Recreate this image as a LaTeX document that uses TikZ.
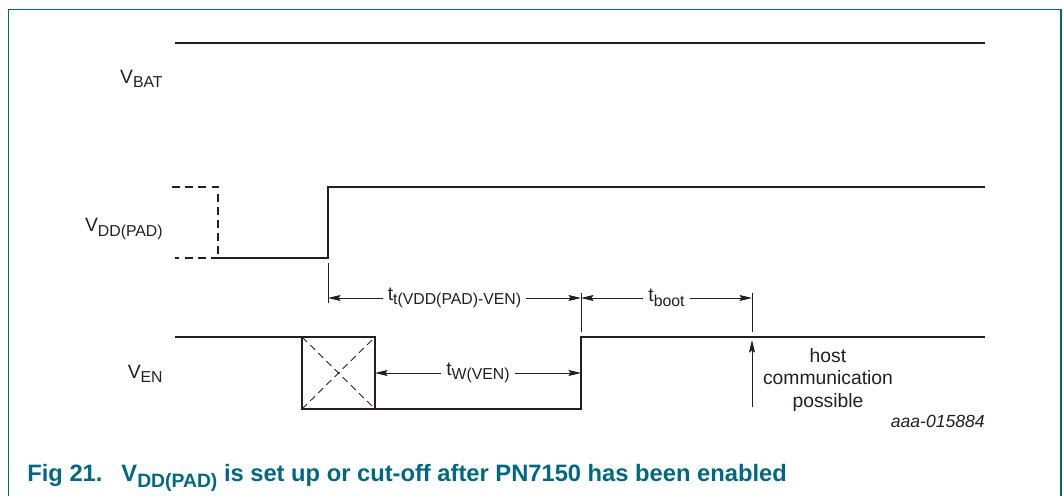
\documentclass[tikz,border=0pt]{standalone}
\usepackage{fontspec}
\setmainfont{Liberation Sans}
\usetikzlibrary{arrows.meta}
\definecolor{nxpTeal}{RGB}{0,104,128}
\definecolor{sigGrau}{RGB}{35,31,32}

\newcommand{\lo}[1]{\raisebox{-0.45ex}{\fontsize{9}{10}\selectfont #1}}

\begin{document}
\begin{tikzpicture}[x=0.02cm, y=-0.02cm,
     sig/.style={line width=1.45pt, sigGrau},
     sigdash/.style={line width=1.45pt, sigGrau, dash pattern=on 4.5pt off 3pt},
     hilf/.style={line width=0.5pt, sigGrau},
     kreuz/.style={line width=0.5pt, sigGrau, dash pattern=on 4pt off 2.5pt},
     mass/.style={{Stealth[length=2.5mm,width=1.2mm,inset=0.4mm]}-{Stealth[length=2.5mm,width=1.2mm,inset=0.4mm]}, line width=0.5pt, sigGrau},
     zeig/.style={-{Stealth[length=2.5mm,width=1.2mm,inset=0.4mm]}, line width=0.5pt, sigGrau},
     lbl/.style={font=\fontsize{11}{13}\selectfont, inner sep=0pt, text=sigGrau},
     mlbl/.style={lbl, fill=white, inner xsep=3pt, inner ysep=2pt}]
    \useasboundingbox (0,0) rectangle (1063,496);
    % Rahmen
    \draw[nxpTeal, line width=1pt] (8.5,496) -- (8.5,9.5) -- (1061,9.5) -- (1061,496);

    % Signalnamen
    \node[lbl, anchor=east] (nbat) at (163,79) {V\lo{BAT}};
    \node[lbl, anchor=east] (npad) at (163,229) {V\lo{DD(PAD)}};
    \node[lbl, anchor=east] (nen) at (163,374) {V\lo{EN}};

    % V_BAT
    \draw[sig] (175,43) -- (985,43);

    % V_DD(PAD)
    \coordinate (p1) at (218,258);
    \coordinate (p2) at (328,258);
    \coordinate (p3) at (328,187);
    \draw[sigdash] (172,187) -- (218,187) -- (p1);
    \draw[sigdash, dash phase=2pt] (175,258) -- (p1);
    \draw[sig] (p1) -- (p2) -- (p3) -- (985,187);

    % V_EN
    \coordinate (e1) at (302,337);
    \coordinate (e2) at (375,409);
    \coordinate (e3) at (581,409);
    \coordinate (e4) at (581,337);
    \draw[sig] (175,337) -- (e1);
    \draw[kreuz] (e1) -- (e2) (302,409) -- (375,337);
    \draw[sig] (e1) rectangle (e2);
    \draw[sig] (e2) -- (e3) -- (e4) -- (985,337);

    % Hilfslinien
    \coordinate (m1) at (328,298);
    \coordinate (m2) at (581,298);
    \coordinate (m3) at (752,298);
    \coordinate (w1) at (375,373);
    \coordinate (w2) at (581,373);
    \coordinate (h1) at (752,407);
    \coordinate (h2) at (752,340);
    \draw[hilf] (328,263) -- (328,303);
    \draw[hilf] (581,293) -- (581,332);
    \draw[hilf] (752,293) -- (752,332);

    % Zeiten
    \draw[mass] (m1) -- node[mlbl] (ttv) {t\lo{t(VDD(PAD)-VEN)}} (m2);
    \draw[mass] (m2) -- node[mlbl] (tb) {t\lo{boot}} (m3);
    \draw[mass] (w1) -- node[mlbl] (tw) {t\lo{W(VEN)}} (w2);
    \draw[zeig] (h1) -- (h2);
    \node[lbl, align=center, anchor=north, font=\fontsize{11}{12.8}\selectfont] (host) at (828,348) {host\\communication\\possible};

    \node[lbl, anchor=base east, font=\fontsize{10}{12}\itshape] (kenn) at (985,428) {aaa-015884};

    % Bildunterschrift
    \node[anchor=base west, inner sep=0pt, text=nxpTeal, font=\fontsize{13.5}{15}\bfseries] (cap) at (27,482)
      {Fig 21.\hspace{0.8em}V\raisebox{-0.45ex}{\fontsize{11}{12}\selectfont DD(PAD)} is set up or cut-off after PN7150 has been enabled};
  \end{tikzpicture}
\end{document}
